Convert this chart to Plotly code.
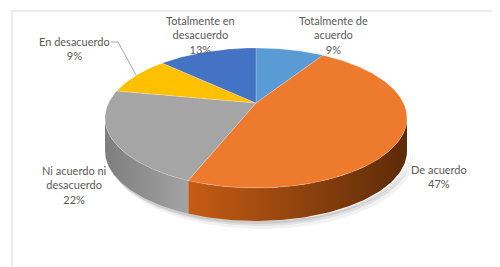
import numpy as np
import plotly.graph_objects as go

# ---- data ----
categories = ["Totalmente de acuerdo", "De acuerdo", "Ni acuerdo ni desacuerdo",
              "En desacuerdo", "Totalmente en desacuerdo"]
values = [9, 47, 22, 9, 13]
label_lines = ["Totalmente de<br>acuerdo", "De acuerdo", "Ni acuerdo ni<br>desacuerdo",
               "En desacuerdo", "Totalmente en<br>desacuerdo"]

# ---- styles ----
top_colors = ["#5b9bd5", "#ee7b2d", "#a5a5a5", "#ffc000", "#4472c4"]
side_grad = [("#3c73a6", "#2c5680"), ("#c65c14", "#5c2b08"), ("#7e7e7e", "#a3a3a3"),
             ("#c29100", "#a07800"), ("#34589a", "#2a477c")]
label_pos = [(325, 27), (431, 168.5), (66, 177), (66, 40), (192, 27)]

# geometry of the perspective pie (pixel-like axes)
CX, CY = 248, 95
A, B, K = 147.5, 66.8, 0.214
D = 33


def proj(theta_deg):
    t = np.radians(theta_deg)
    u = np.sin(t)
    v = -np.cos(t)
    w = 1 - K * v
    return CX + A * u / w, CY + B * v / w


total = float(sum(values))
bounds = np.concatenate([[0], np.cumsum(values)]) / total * 360.0

fig = go.Figure()

# soft shadow
for i, (dx, dy, op) in enumerate([(6, 8, 0.05), (4, 5, 0.07), (2, 3, 0.09)]):
    th = np.linspace(102.4, 257.6, 80)
    x, y = proj(th)
    xs = np.concatenate([x + dx, (x + dx)[::-1]])
    ys = np.concatenate([y + D + dy, (y + D)[::-1]])
    fig.add_trace(go.Scatter(x=xs, y=ys, mode="lines", fill="toself",
                             fillcolor=f"rgba(0,0,0,{op})", line=dict(width=0),
                             hoverinfo="skip", showlegend=False))

vis0 = np.degrees(np.arccos(-K))
vis1 = 360 - vis0

# sides
for i in range(len(values)):
    t0, t1 = bounds[i], bounds[i + 1]
    a0, a1 = max(t0, vis0), min(t1, vis1)
    if a1 <= a0:
        continue
    th = np.linspace(a0, a1, 80)
    x, y = proj(th)
    xs = np.concatenate([x, x[::-1]])
    ys = np.concatenate([y, (y + D)[::-1]])
    c0, c1 = side_grad[i]
    fig.add_trace(go.Scatter(x=xs, y=ys, mode="lines", fill="toself",
                             fillgradient=dict(type="horizontal",
                                               colorscale=[[0, c0], [1, c1]]),
                             line=dict(width=0), hoverinfo="skip", showlegend=False))

# tops
for i in range(len(values)):
    t0, t1 = bounds[i], bounds[i + 1]
    th = np.linspace(t0, t1, max(4, int((t1 - t0) * 2)))
    x, y = proj(th)
    xs = np.concatenate([[CX], x, [CX]])
    ys = np.concatenate([[CY], y, [CY]])
    fig.add_trace(go.Scatter(x=xs, y=ys, mode="lines", fill="toself",
                             fillcolor=top_colors[i],
                             line=dict(width=0.6, color="rgba(255,255,255,0.35)"),
                             hoverinfo="skip", showlegend=False))

# leader line for "En desacuerdo"
mid = (bounds[3] + bounds[4]) / 2
ex, ey = proj(mid)
lx, ly = label_pos[3]
fig.add_trace(go.Scatter(x=[lx + 37, lx + 44, float(ex)], y=[ly - 6, ly - 6, float(ey)],
                         mode="lines", line=dict(color="#a6a6a6", width=1),
                         hoverinfo="skip", showlegend=False))

for i in range(len(values)):
    x, y = label_pos[i]
    fig.add_annotation(x=x, y=y, xref="x", yref="y", showarrow=False,
                       text=f"{label_lines[i]}<br>{values[i]}%",
                       font=dict(family="Lato, Open Sans, sans-serif", size=11, color="#595959"),
                       align="center", xanchor="center", yanchor="middle")

fig.add_shape(type="rect", xref="paper", yref="paper", x0=0.008, x1=0.984, y0=0.026, y1=0.989,
              line=dict(color="#d9d9d9", width=1))

fig.update_layout(width=500, height=267, margin=dict(l=0, r=0, t=0, b=0),
                  paper_bgcolor="white", plot_bgcolor="white",
                  xaxis=dict(range=[0, 500], visible=False, fixedrange=True),
                  yaxis=dict(range=[267, 0], visible=False, fixedrange=True),
                  showlegend=False)

fig.write_html("out.html")
